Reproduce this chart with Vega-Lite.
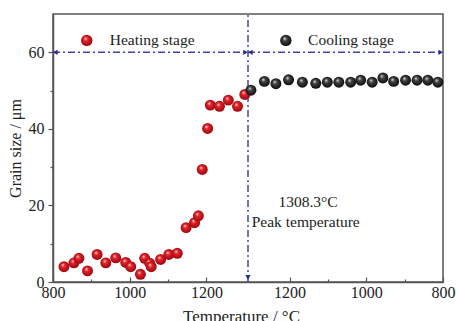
{
  "$schema": "https://vega.github.io/schema/vega-lite/v6.json",
  "width": 390,
  "height": 268,
  "autosize": {"type": "none"},
  "padding": {"left": 53, "top": 14, "right": 13, "bottom": 39},
  "config": {
    "view": {"stroke": "#555555", "strokeWidth": 1.5},
    "font": "Liberation Serif",
    "axis": {"grid": false, "domainColor": "#555555", "domainWidth": 1.5, "tickColor": "#555555", "tickWidth": 1.2, "labelFont": "Liberation Serif", "titleFont": "Liberation Serif", "labelColor": "#222222", "titleColor": "#222222", "labelFontSize": 16, "titleFontSize": 17, "titleFontWeight": "normal"}
  },
  "datasets": {
    "heating": [
      {"x": 828.6, "size": 4.0}, {"x": 854.5, "size": 5.0}, {"x": 867.5, "size": 6.2}, {"x": 890, "size": 2.9},
      {"x": 915, "size": 7.2}, {"x": 937.7, "size": 5.0}, {"x": 963.6, "size": 6.3}, {"x": 989.6, "size": 5.1},
      {"x": 1002.6, "size": 4.0}, {"x": 1027.8, "size": 2.0}, {"x": 1039, "size": 6.2}, {"x": 1052, "size": 4.9},
      {"x": 1056, "size": 4.0}, {"x": 1080.5, "size": 5.9}, {"x": 1102, "size": 7.2}, {"x": 1124, "size": 7.5},
      {"x": 1147, "size": 14.2}, {"x": 1169, "size": 15.5}, {"x": 1179, "size": 17.3}, {"x": 1189, "size": 29.4},
      {"x": 1203, "size": 40.1}, {"x": 1210, "size": 46.2}, {"x": 1234, "size": 45.9}, {"x": 1257, "size": 47.5},
      {"x": 1281, "size": 45.9}, {"x": 1300, "size": 49.0}
    ],
    "cooling": [
      {"x": 1316, "size": 50.1}, {"x": 1351, "size": 52.4}, {"x": 1381, "size": 51.8}, {"x": 1414, "size": 52.8},
      {"x": 1450, "size": 52.2}, {"x": 1485, "size": 51.9}, {"x": 1515, "size": 52.2}, {"x": 1545, "size": 52.2},
      {"x": 1576, "size": 52.2}, {"x": 1602, "size": 52.7}, {"x": 1632, "size": 52.2}, {"x": 1660, "size": 53.3},
      {"x": 1688, "size": 52.4}, {"x": 1719, "size": 52.7}, {"x": 1749, "size": 52.7}, {"x": 1777, "size": 52.7},
      {"x": 1803, "size": 52.2}
    ],
    "hlines": [
      {"x": 800, "x2": 1308.3, "y": 60},
      {"x": 1308.3, "x2": 1816.6, "y": 60}
    ],
    "vline": [
      {"x": 1308.3, "y": 0, "y2": 70}
    ],
    "arrows": [
      {"x": 806, "y": 60, "shape": "triangle-left"},
      {"x": 1302, "y": 60, "shape": "triangle-right"},
      {"x": 1314.6, "y": 60, "shape": "triangle-left"},
      {"x": 1810.6, "y": 60, "shape": "triangle-right"},
      {"x": 1308.3, "y": 1.2, "shape": "triangle-down"}
    ],
    "legend": [
      {"x": 888, "y": 63.1, "stage": "heating"},
      {"x": 1407, "y": 63.1, "stage": "cooling"}
    ],
    "labels": [
      {"x": 948, "y": 63.1, "text": "Heating stage"},
      {"x": 1465, "y": 63.1, "text": "Cooling stage"},
      {"x": 1318, "y": 15.75, "text": "Peak temperature"}
    ],
    "peak": [
      {"x": 1464.8, "y": 21.0, "text": "1308.3°C"}
    ]
  },
  "layer": [
    {
      "data": {"name": "hlines"},
      "mark": {"type": "rule", "color": "#4545a5", "strokeWidth": 1.5, "strokeDash": [7, 3, 2, 3]},
      "encoding": {
        "x": {"field": "x", "type": "quantitative", "scale": {"domain": [800, 1816.6], "nice": false, "zero": false},
          "axis": {"title": "Temperature / °C", "values": [800, 900, 1000, 1100, 1200, 1516.6, 1616.6, 1716.6, 1816.6, 1416.6],
            "labelExpr": "(round(datum.value > 1310 ? 2616.6 - datum.value : datum.value) % 200 == 0) ? toString(round(datum.value > 1310 ? 2616.6 - datum.value : datum.value)) : ''",
            "tickSize": {"condition": {"test": "round(datum.value > 1310 ? 2616.6 - datum.value : datum.value) % 200 != 0", "value": -3}, "value": -5},
            "labelPadding": 7, "labelFlush": false, "labelOverlap": false, "titleX": 188, "titleAlign": "center", "titleY": 34, "titleBaseline": "middle"}},
        "x2": {"field": "x2"},
        "y": {"field": "y", "type": "quantitative", "scale": {"domain": [0, 70], "nice": false},
          "axis": {"title": "Grain size / μm", "values": [0, 10, 20, 30, 40, 50, 60],
            "labelExpr": "datum.value % 20 == 0 ? datum.label : ''",
            "tickSize": {"condition": {"test": "datum.value % 20 != 0", "value": 3}, "value": 5},
            "labelPadding": 4,
            "titleX": -38, "titleY": 134, "titleAngle": 270, "titleAlign": "center", "titleBaseline": "middle", "titleFontSize": 16}}
      }
    },
    {
      "data": {"name": "vline"},
      "mark": {"type": "rule", "color": "#4545a5", "strokeWidth": 1.5, "strokeDash": [7, 3, 2, 3]},
      "encoding": {
        "x": {"field": "x", "type": "quantitative"},
        "y": {"field": "y", "type": "quantitative"},
        "y2": {"field": "y2"}
      }
    },
    {
      "data": {"name": "arrows"},
      "mark": {"type": "point", "filled": true, "color": "#2b2b8f", "size": 28, "opacity": 1},
      "encoding": {
        "x": {"field": "x", "type": "quantitative"},
        "y": {"field": "y", "type": "quantitative"},
        "shape": {"field": "shape", "type": "nominal", "scale": null}
      }
    },
    {
      "data": {"name": "heating"},
      "mark": {"type": "circle", "size": 120, "opacity": 1,
        "color": {"gradient": "radial", "x1": 0.38, "y1": 0.32, "r1": 0, "x2": 0.5, "y2": 0.5, "r2": 0.6,
          "stops": [{"offset": 0, "color": "#ffe0e0"}, {"offset": 0.3, "color": "#e3242b"}, {"offset": 1, "color": "#8c0008"}]}},
      "encoding": {
        "x": {"field": "x", "type": "quantitative"},
        "y": {"field": "size", "type": "quantitative"}
      }
    },
    {
      "data": {"name": "cooling"},
      "mark": {"type": "circle", "size": 120, "opacity": 1,
        "color": {"gradient": "radial", "x1": 0.38, "y1": 0.32, "r1": 0, "x2": 0.5, "y2": 0.5, "r2": 0.6,
          "stops": [{"offset": 0, "color": "#f0f0f0"}, {"offset": 0.3, "color": "#444444"}, {"offset": 1, "color": "#000000"}]}},
      "encoding": {
        "x": {"field": "x", "type": "quantitative"},
        "y": {"field": "size", "type": "quantitative"}
      }
    },
    {
      "data": {"name": "legend"},
      "transform": [{"filter": "datum.stage == 'heating'"}],
      "mark": {"type": "circle", "size": 130, "opacity": 1,
        "color": {"gradient": "radial", "x1": 0.38, "y1": 0.32, "r1": 0, "x2": 0.5, "y2": 0.5, "r2": 0.6,
          "stops": [{"offset": 0, "color": "#ffe0e0"}, {"offset": 0.3, "color": "#e3242b"}, {"offset": 1, "color": "#8c0008"}]}},
      "encoding": {
        "x": {"field": "x", "type": "quantitative"},
        "y": {"field": "y", "type": "quantitative"}
      }
    },
    {
      "data": {"name": "legend"},
      "transform": [{"filter": "datum.stage == 'cooling'"}],
      "mark": {"type": "circle", "size": 130, "opacity": 1,
        "color": {"gradient": "radial", "x1": 0.38, "y1": 0.32, "r1": 0, "x2": 0.5, "y2": 0.5, "r2": 0.6,
          "stops": [{"offset": 0, "color": "#f0f0f0"}, {"offset": 0.3, "color": "#444444"}, {"offset": 1, "color": "#000000"}]}},
      "encoding": {
        "x": {"field": "x", "type": "quantitative"},
        "y": {"field": "y", "type": "quantitative"}
      }
    },
    {
      "data": {"name": "labels"},
      "mark": {"type": "text", "align": "left", "baseline": "middle", "font": "Liberation Serif", "fontSize": 15.5, "color": "#222222"},
      "encoding": {
        "x": {"field": "x", "type": "quantitative"},
        "y": {"field": "y", "type": "quantitative"},
        "text": {"field": "text"}
      }
    },
    {
      "data": {"name": "peak"},
      "mark": {"type": "text", "align": "center", "baseline": "middle", "font": "Liberation Serif", "fontSize": 15.5, "color": "#222222"},
      "encoding": {
        "x": {"field": "x", "type": "quantitative"},
        "y": {"field": "y", "type": "quantitative"},
        "text": {"field": "text"}
      }
    }
  ]
}
